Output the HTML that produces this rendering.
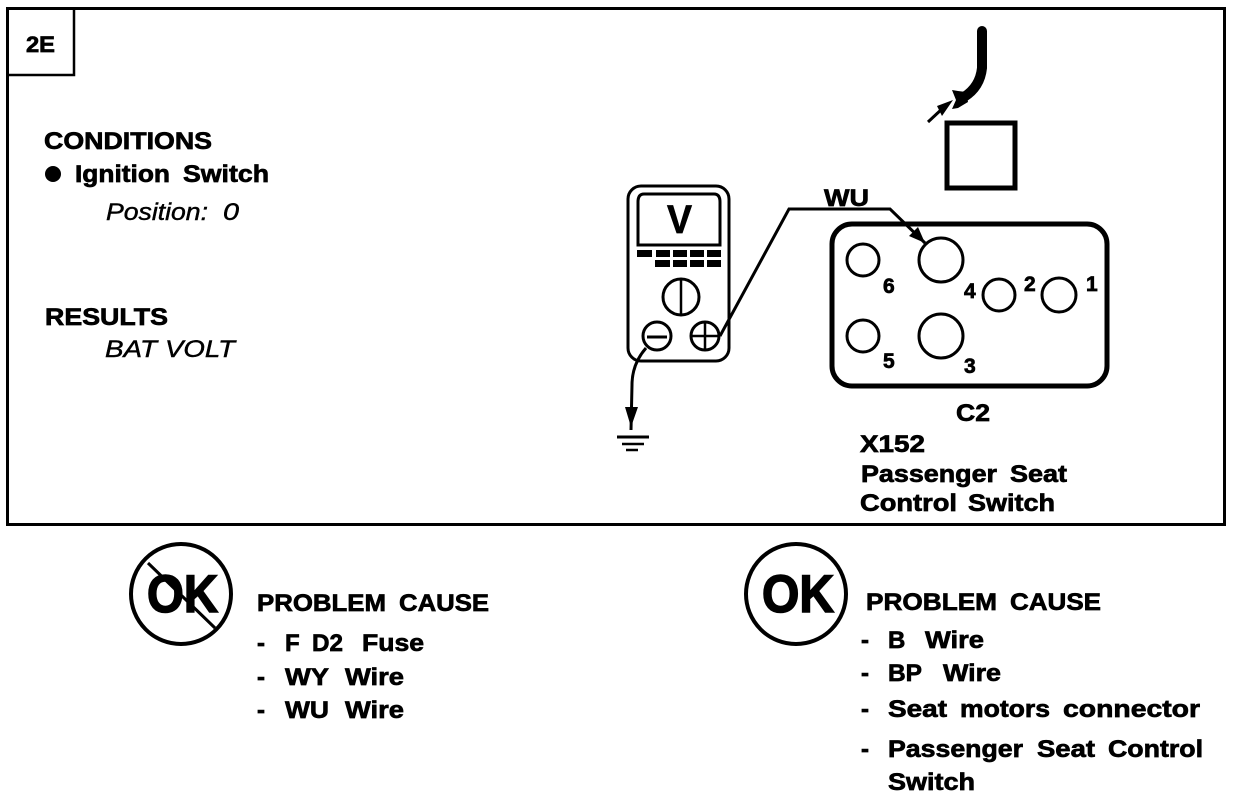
<!DOCTYPE html>
<html><head><meta charset="utf-8">
<style>
html,body{margin:0;padding:0;background:#fff;width:1248px;height:798px;overflow:hidden}
svg{display:block}
text{font-family:"Liberation Sans",sans-serif;font-weight:bold;fill:#000;stroke:#000;stroke-width:.7;font-size:24px}
.i{font-style:italic;font-weight:normal;stroke-width:.45}
.ok{font-size:53px;stroke-width:1.6}
.n{font-size:21px}
</style></head><body>
<svg width="1248" height="798" viewBox="0 0 1248 798" xmlns="http://www.w3.org/2000/svg">
<g fill="none" stroke="#000">
<rect x="7.5" y="8.5" width="1217" height="516" stroke-width="3"/>
<path d="M8 75H74V9" stroke-width="2.5"/>
<!-- meter -->
<rect x="628" y="186" width="101" height="175" rx="13" stroke-width="3"/>
<path d="M644 194H714Q720 194 720 202V245H638V202Q638 194 644 194Z" stroke-width="3"/>
<circle cx="681" cy="297" r="18" stroke-width="3"/>
<path d="M681 280V314" stroke-width="2.5"/>
<circle cx="657" cy="336" r="14" stroke-width="3"/>
<path d="M647 337H667" stroke-width="3"/>
<circle cx="705" cy="336" r="14" stroke-width="3"/>
<path d="M691 336H719M705 322V350" stroke-width="2.5"/>
<!-- wires -->
<path d="M720 336L789 209H890L925 243" stroke-width="3"/>
<path d="M646 348Q632 364 632 385L631 430" stroke-width="3"/>
<path d="M617 437H649" stroke-width="3"/>
<path d="M622 444H644" stroke-width="2.5"/>
<path d="M626 450H638" stroke-width="2.5"/>
<!-- connector -->
<rect x="832" y="224" width="275" height="162" rx="20" stroke-width="5"/>
<circle cx="863" cy="260" r="16" stroke-width="3"/>
<circle cx="941" cy="260" r="22" stroke-width="3"/>
<circle cx="999" cy="295" r="16" stroke-width="3"/>
<circle cx="1059" cy="295" r="17" stroke-width="3"/>
<circle cx="863" cy="336" r="16" stroke-width="3"/>
<circle cx="941" cy="336" r="22" stroke-width="3"/>
<!-- square and cable -->
<rect x="947" y="123" width="68" height="65" stroke-width="5"/>
<path d="M982 31V68Q980 87 964 97" stroke-width="10" stroke-linecap="round"/>
<path d="M928 122L943 108" stroke-width="3"/>
<!-- OK circles -->
<circle cx="181" cy="594" r="50" stroke-width="4"/>
<circle cx="796" cy="594" r="50" stroke-width="4"/>
<path d="M148 563L215 628" stroke-width="3"/>
</g>
<g fill="#000">
<path d="M637 250h15v7h-15zM656 250h14v7h-14zM673 250h14v7h-14zM690 250h14v7h-14zM707 250h14v7h-14z"/>
<path d="M655 260h15v7h-15zM673 260h14v7h-14zM690 260h14v7h-14zM707 260h14v7h-14z"/>
<path d="M925 243L909 236L918 227Z"/>
<path d="M631 427L625 407H638Z"/>
<path d="M953 100L937 106L942 116Z"/>
<path d="M952 90L958 91L966 92L968 102L958 108L952 109L956 100Z"/>
</g>
<text x="26" y="52" style="font-size:22px" textLength="29" lengthAdjust="spacingAndGlyphs">2E</text>
<text x="44" y="149" textLength="168" lengthAdjust="spacingAndGlyphs">CONDITIONS</text>
<circle cx="53" cy="174" r="8" fill="#000"/>
<text x="75" y="182" textLength="95" lengthAdjust="spacingAndGlyphs">Ignition</text>
<text x="183" y="182" textLength="86" lengthAdjust="spacingAndGlyphs">Switch</text>
<text class="i" x="106" y="220" textLength="102" lengthAdjust="spacingAndGlyphs">Position:</text>
<text class="i" x="223" y="220" textLength="16" lengthAdjust="spacingAndGlyphs">0</text>
<text x="45" y="325" textLength="123" lengthAdjust="spacingAndGlyphs">RESULTS</text>
<text class="i" x="105" y="357" textLength="52" lengthAdjust="spacingAndGlyphs">BAT</text>
<text class="i" x="165" y="357" textLength="70" lengthAdjust="spacingAndGlyphs">VOLT</text>
<text x="667" y="233" style="font-size:40px" textLength="25" lengthAdjust="spacingAndGlyphs">V</text>
<text x="824" y="206" textLength="45" lengthAdjust="spacingAndGlyphs">WU</text>
<text class="n" x="883" y="293">6</text>
<text class="n" x="964" y="298">4</text>
<text class="n" x="1024" y="291">2</text>
<text class="n" x="1086" y="291">1</text>
<text class="n" x="883" y="368">5</text>
<text class="n" x="964" y="373">3</text>
<text x="956" y="421" textLength="34" lengthAdjust="spacingAndGlyphs">C2</text>
<text x="860" y="452" textLength="65" lengthAdjust="spacingAndGlyphs">X152</text>
<text x="861" y="482" textLength="136" lengthAdjust="spacingAndGlyphs">Passenger</text>
<text x="1010" y="482" textLength="57" lengthAdjust="spacingAndGlyphs">Seat</text>
<text x="860" y="511" textLength="97" lengthAdjust="spacingAndGlyphs">Control</text>
<text x="968" y="511" textLength="87" lengthAdjust="spacingAndGlyphs">Switch</text>
<text class="ok" x="147" y="612" textLength="71" lengthAdjust="spacingAndGlyphs">OK</text>
<text class="ok" x="762" y="612" textLength="72" lengthAdjust="spacingAndGlyphs">OK</text>
<text x="257" y="611" textLength="129" lengthAdjust="spacingAndGlyphs">PROBLEM</text>
<text x="399" y="611" textLength="90" lengthAdjust="spacingAndGlyphs">CAUSE</text>
<text x="257" y="651">-</text>
<text x="285" y="651">F</text>
<text x="312" y="651" textLength="31" lengthAdjust="spacingAndGlyphs">D2</text>
<text x="362" y="651" textLength="62" lengthAdjust="spacingAndGlyphs">Fuse</text>
<text x="257" y="685">-</text>
<text x="285" y="685" textLength="44" lengthAdjust="spacingAndGlyphs">WY</text>
<text x="345" y="685" textLength="59" lengthAdjust="spacingAndGlyphs">Wire</text>
<text x="257" y="718">-</text>
<text x="285" y="718" textLength="44" lengthAdjust="spacingAndGlyphs">WU</text>
<text x="345" y="718" textLength="59" lengthAdjust="spacingAndGlyphs">Wire</text>
<text x="866" y="610" textLength="131" lengthAdjust="spacingAndGlyphs">PROBLEM</text>
<text x="1010" y="610" textLength="91" lengthAdjust="spacingAndGlyphs">CAUSE</text>
<text x="861" y="648">-</text>
<text x="888" y="648">B</text>
<text x="925" y="648" textLength="59" lengthAdjust="spacingAndGlyphs">Wire</text>
<text x="861" y="681">-</text>
<text x="888" y="681" textLength="34" lengthAdjust="spacingAndGlyphs">BP</text>
<text x="943" y="681" textLength="58" lengthAdjust="spacingAndGlyphs">Wire</text>
<text x="861" y="717">-</text>
<text x="888" y="717" textLength="59" lengthAdjust="spacingAndGlyphs">Seat</text>
<text x="960" y="717" textLength="90" lengthAdjust="spacingAndGlyphs">motors</text>
<text x="1063" y="717" textLength="137" lengthAdjust="spacingAndGlyphs">connector</text>
<text x="861" y="757">-</text>
<text x="888" y="757" textLength="135" lengthAdjust="spacingAndGlyphs">Passenger</text>
<text x="1037" y="757" textLength="58" lengthAdjust="spacingAndGlyphs">Seat</text>
<text x="1108" y="757" textLength="95" lengthAdjust="spacingAndGlyphs">Control</text>
<text x="888" y="790" textLength="87" lengthAdjust="spacingAndGlyphs">Switch</text>
</svg>
</body></html>
